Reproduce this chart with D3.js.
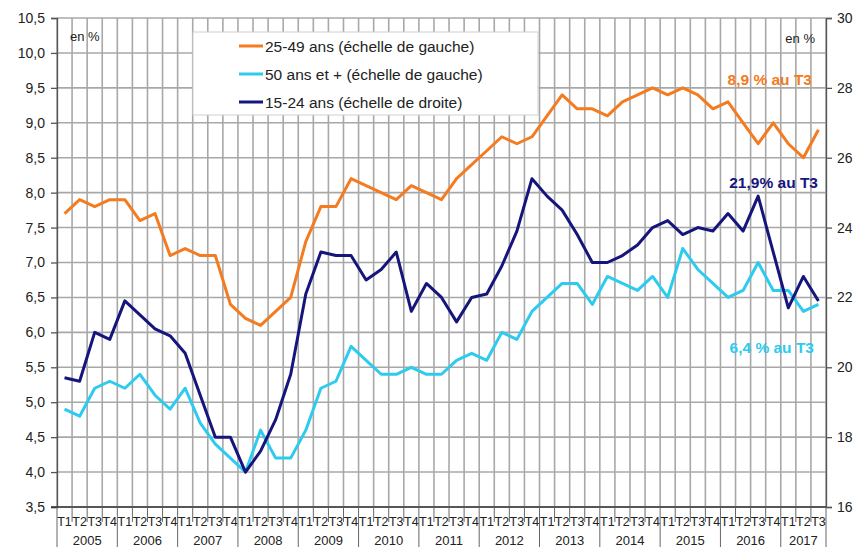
<!DOCTYPE html>
<html>
<head>
<meta charset="utf-8">
<script src="https://cdn.jsdelivr.net/npm/d3@7"></script>
<style>
body { margin:0; background:#fff; }
text { font-family: "Liberation Sans", Arial, sans-serif; }
</style>
</head>
<body>
<svg id="chart" width="858" height="547"></svg>
<script>
// quarters 2005 T1 .. 2017 T3
var years = [2005,2006,2007,2008,2009,2010,2011,2012,2013,2014,2015,2016,2017]
var quarterNames = ["T1","T2","T3","T4"]

// 25-49 ans, left scale
var age2549 = [7.7,7.9,7.8,7.9, 7.9,7.6,7.7,7.1, 7.2,7.1,7.1,6.4, 6.2,6.1,6.3,6.5,
  7.3,7.8,7.8,8.2, 8.1,8.0,7.9,8.1, 8.0,7.9,8.2,8.4, 8.6,8.8,8.7,8.8,
  9.1,9.4,9.2,9.2, 9.1,9.3,9.4,9.5, 9.4,9.5,9.4,9.2, 9.3,9.0,8.7,9.0, 8.7,8.5,8.9]
// 50 ans et +, left scale
var age50 = [4.9,4.8,5.2,5.3, 5.2,5.4,5.1,4.9, 5.2,4.7,4.4,4.2, 4.0,4.6,4.2,4.2,
  4.6,5.2,5.3,5.8, 5.6,5.4,5.4,5.5, 5.4,5.4,5.6,5.7, 5.6,6.0,5.9,6.3,
  6.5,6.7,6.7,6.4, 6.8,6.7,6.6,6.8, 6.5,7.2,6.9,6.7, 6.5,6.6,7.0,6.6, 6.6,6.3,6.4]
// 15-24 ans, right scale
var age1524 = [19.7,19.6,21.0,20.8, 21.9,21.5,21.1,20.9, 20.4,19.2,18.0,18.0, 17.0,17.6,18.5,19.8,
  22.1,23.3,23.2,23.2, 22.5,22.8,23.3,21.6, 22.4,22.0,21.3,22.0, 22.1,22.9,23.9,25.4,
  24.9,24.5,23.8,23.0, 23.0,23.2,23.5,24.0, 24.2,23.8,24.0,23.9, 24.4,23.9,24.9,23.3, 21.7,22.6,21.9]

var leftTicks = d3.range(3.5, 10.51, 0.5)
var rightTicks = [16,18,20,22,24,26,28,30]

var quarters = []
years.forEach(function(y){ quarterNames.forEach(function(q){ quarters.push({year:y, q:q}) }) })
quarters = quarters.slice(0, age2549.length)

var svg = d3.select("#chart")
var plotLeft = 57, plotRight = 826, plotTop = 18, plotBottom = 507
var fmt = function(d){ return d3.format(".1f")(d).replace(".", ",") }

var x = d3.scaleBand().domain(d3.range(quarters.length)).range([plotLeft, plotRight]).padding(0)
var yL = d3.scaleLinear().domain([3.5, 10.5]).range([plotBottom, plotTop])
var yR = d3.scaleLinear().domain([16, 30]).range([plotBottom, plotTop])
var cx = function(i){ return x(i) + x.bandwidth()/2 }
var bx = function(i){ return plotLeft + i*x.bandwidth() }

var grid = svg.append("g").attr("stroke", "#a8a8a8").attr("stroke-width", 1.6)
grid.selectAll(".v").data(d3.range(quarters.length + 1)).enter().append("line")
  .attr("x1", bx).attr("x2", bx)
  .attr("y1", plotTop).attr("y2", plotBottom)
grid.selectAll(".h").data(leftTicks).enter().append("line")
  .attr("x1", plotLeft).attr("x2", plotRight)
  .attr("y1", function(d){ return yL(d) }).attr("y2", function(d){ return yL(d) })

// left axis
var gL = svg.append("g").attr("transform", "translate(" + plotLeft + ",0)")
  .call(d3.axisLeft(yL).tickValues(leftTicks).tickFormat(fmt).tickSize(6).tickPadding(6))
gL.selectAll("text").attr("font-size", 14).attr("fill", "#222")
gL.selectAll("line,path").attr("stroke", "#555").attr("stroke-width", 1.3)

// right axis
var gR = svg.append("g").attr("transform", "translate(" + plotRight + ",0)")
  .call(d3.axisRight(yR).tickValues(rightTicks).tickSize(6).tickPadding(5))
gR.selectAll("text").attr("font-size", 14).attr("fill", "#222")
gR.selectAll("line,path").attr("stroke", "#555").attr("stroke-width", 1.3)

// bottom axis
var gx = svg.append("g")
gx.append("line").attr("x1", plotLeft - 6).attr("x2", plotRight).attr("y1", plotBottom).attr("y2", plotBottom)
  .attr("stroke", "#333").attr("stroke-width", 1.3)
gx.selectAll(".qt").data(d3.range(quarters.length + 1)).enter().append("line")
  .attr("x1", bx).attr("x2", bx)
  .attr("y1", plotBottom)
  .attr("y2", function(i){ return (i % 4 == 0 || i == quarters.length) ? 547 : 522 })
  .attr("stroke", "#666").attr("stroke-width", 1)
gx.selectAll(".ql").data(quarters).enter().append("text")
  .attr("x", function(d, i){ return cx(i) }).attr("y", 526)
  .attr("text-anchor", "middle").attr("font-size", 12.5).attr("fill", "#222")
  .text(function(d){ return d.q })
gx.selectAll(".yl").data(years).enter().append("text")
  .attr("x", function(d, j){
    var first = j*4, last = Math.min(j*4 + 3, quarters.length - 1)
    return (x(first) + x(last) + x.bandwidth())/2 })
  .attr("y", 545).attr("text-anchor", "middle").attr("font-size", 13).attr("fill", "#222")
  .text(function(d){ return d })

// legend box
var lg = svg.append("g")
lg.append("rect").attr("x", 193).attr("y", 32).attr("width", 345).attr("height", 83)
  .attr("fill", "#fff").attr("stroke", "#d0d0d0")
var legendItems = [
  {label:"25-49 ans (échelle de gauche)", color:"#f47b20"},
  {label:"50 ans et + (échelle de gauche)", color:"#2ccbef"},
  {label:"15-24 ans (échelle de droite)", color:"#16157c"}
]
legendItems.forEach(function(d, i){
  lg.append("line").attr("x1", 239).attr("x2", 263).attr("y1", 46 + i*28).attr("y2", 46 + i*28)
    .attr("stroke", d.color).attr("stroke-width", 3)
  lg.append("text").attr("x", 265).attr("y", 51.5 + i*28).attr("font-size", 15.5).attr("fill", "#222")
    .text(d.label)
})

// series
var lineL = d3.line().x(function(d, i){ return cx(i) }).y(function(d){ return yL(d) })
var lineR = d3.line().x(function(d, i){ return cx(i) }).y(function(d){ return yR(d) })
svg.append("path").datum(age50).attr("d", lineL).attr("fill", "none")
  .attr("stroke", "#2ccbef").attr("stroke-width", 3).attr("stroke-linejoin", "round")
svg.append("path").datum(age1524).attr("d", lineR).attr("fill", "none")
  .attr("stroke", "#16157c").attr("stroke-width", 3).attr("stroke-linejoin", "round")
svg.append("path").datum(age2549).attr("d", lineL).attr("fill", "none")
  .attr("stroke", "#f47b20").attr("stroke-width", 3).attr("stroke-linejoin", "round")

// annotations
svg.append("text").attr("x", 70).attr("y", 41).attr("font-size", 13).attr("fill", "#222").text("en %")
svg.append("text").attr("x", 815).attr("y", 43).attr("text-anchor", "end").attr("font-size", 13).attr("fill", "#222").text("en %")
svg.append("text").attr("x", 812).attr("y", 85).attr("text-anchor", "end").attr("font-size", 15.5)
  .attr("font-weight", "bold").attr("fill", "#f47b20").text("8,9 % au T3")
svg.append("text").attr("x", 818).attr("y", 188).attr("text-anchor", "end").attr("font-size", 15.5)
  .attr("font-weight", "bold").attr("fill", "#16157c").text("21,9% au T3")
svg.append("text").attr("x", 814).attr("y", 353).attr("text-anchor", "end").attr("font-size", 15.5)
  .attr("font-weight", "bold").attr("fill", "#2ccbef").text("6,4 % au T3")
</script>
</body>
</html>
